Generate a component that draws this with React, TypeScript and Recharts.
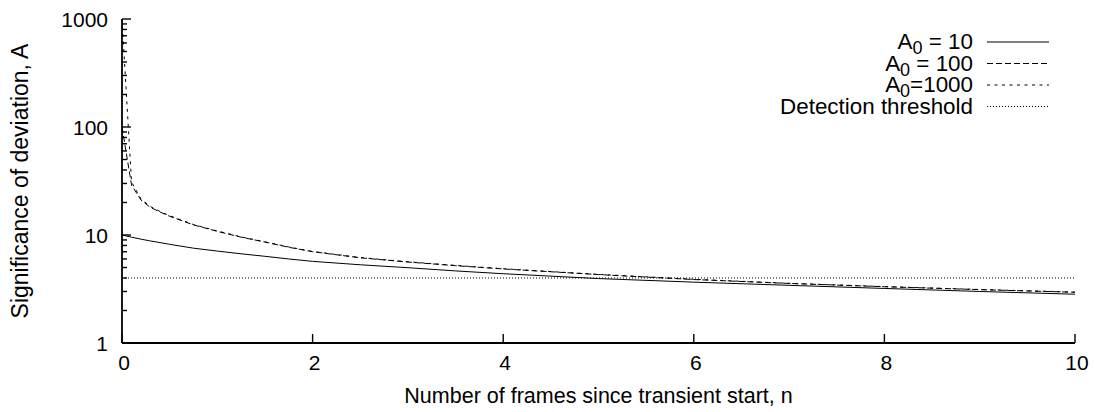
import React from 'react';
import { LineChart, Line, XAxis, YAxis, Legend } from 'recharts';

// Frames since the transient started
const frames = [0, 0.1, 0.2, 0.3, 0.4, 0.5, 0.75, 1, 1.25, 1.5, 1.75, 2, 2.5, 3, 3.5, 4, 5, 6, 7, 8, 9, 10];
// Significance of the deviation for three initial amplitudes
const sigA10 = [10, 9.55, 9.15, 8.8, 8.5, 8.2, 7.55, 7.1, 6.7, 6.35, 6.0, 5.7, 5.3, 4.98, 4.65, 4.38, 3.95, 3.66, 3.42, 3.2, 3.0, 2.83];
const sigA100 = [100, 29, 21, 18, 16.3, 14.9, 12.4, 10.8, 9.55, 8.6, 7.7, 7.0, 6.15, 5.62, 5.2, 4.85, 4.3, 3.87, 3.56, 3.32, 3.12, 2.95];
const sigA1000 = [1000, 31, 21.5, 18.3, 16.5, 15.1, 12.5, 10.9, 9.6, 8.65, 7.75, 7.04, 6.18, 5.65, 5.23, 4.87, 4.32, 3.89, 3.57, 3.33, 3.13, 2.96];
const detectionThreshold = 4;

const seriesNames = ['A_0 = 10', 'A_0 = 100', 'A_0=1000', 'Detection threshold'];

const xTicks = [0, 2, 4, 6, 8, 10];
const yMajor = [1, 10, 100, 1000];
const yMinor = [2, 3, 4, 5, 6, 7, 8, 9, 20, 30, 40, 50, 60, 70, 80, 90, 200, 300, 400, 500, 600, 700, 800, 900];
const yTicks = [...yMajor, ...yMinor].sort((a, b) => a - b);

const data = frames.map((n, i) => ({
  n,
  a10: sigA10[i],
  a100: sigA100[i],
  a1000: sigA1000[i],
  thr: detectionThreshold,
}));

const FONT = '"Liberation Sans", Arial, Helvetica, sans-serif';
const INK = '#000';
const MAJOR = 9;
const MINOR = 5;
const FRAME_W = 1.8;
const TICK_W = 1.4;

const LeftTick = (props: any) => {
  const { x, y, payload } = props;
  const major = yMajor.includes(payload.value);
  return (
    <g>
      <line x1={x} x2={x + (major ? MAJOR : MINOR)} y1={y} y2={y} stroke={INK} strokeWidth={TICK_W} />
      {major && (
        <text x={x - 14} y={y} textAnchor="end" dominantBaseline="central" fontSize={21} fontFamily={FONT} fill={INK}>
          {payload.value}
        </text>
      )}
    </g>
  );
};

const RightTick = (props: any) => {
  const { x, y, payload } = props;
  const major = yMajor.includes(payload.value);
  return <line x1={x} x2={x - (major ? MAJOR : MINOR)} y1={y} y2={y} stroke={INK} strokeWidth={TICK_W} />;
};

const BottomTick = (props: any) => {
  const { x, y, payload } = props;
  return (
    <g>
      <line x1={x} x2={x} y1={y} y2={y - MAJOR} stroke={INK} strokeWidth={TICK_W} />
      <text x={x + 2} y={y + 27} textAnchor="middle" fontSize={21} fontFamily={FONT} fill={INK}>
        {payload.value}
      </text>
    </g>
  );
};

const TopTick = (props: any) => {
  const { x, y } = props;
  return <line x1={x} x2={x} y1={y} y2={y + MAJOR} stroke={INK} strokeWidth={TICK_W} />;
};

// Label text with "_x" rendered as a subscript
const renderName = (name: string) => {
  const idx = name.indexOf('_');
  if (idx < 0) return name;
  return (
    <>
      {name.slice(0, idx)}
      <tspan dy={5} fontSize={18}>{name.slice(idx + 1, idx + 2)}</tspan>
      <tspan dy={-5}>{name.slice(idx + 2)}</tspan>
    </>
  );
};

const LegendBox = (props: any) => {
  const payload = props.payload || [];
  const textRight = 973;
  const sampleX1 = 987;
  const sampleX2 = 1049;
  const top = 42;
  const step = 21.5;
  return (
    <svg width={1094} height={412} style={{ position: 'absolute', left: 0, top: 0, overflow: 'visible' }}>
      {payload.map((entry: any, i: number) => {
        const y = top + i * step;
        const dash = entry.payload?.strokeDasharray;
        return (
          <g key={i}>
            <text x={textRight} y={y + 7} textAnchor="end" fontSize={22.4} fontFamily={FONT} fill={INK}>
              {renderName(String(entry.value))}
            </text>
            <line x1={sampleX1} x2={sampleX2} y1={y} y2={y} stroke={INK} strokeWidth={1} strokeDasharray={dash} />
          </g>
        );
      })}
    </svg>
  );
};

export default function App() {
  return (
    <div style={{ position: 'absolute', left: 0, top: 0, width: 1094, height: 412, background: '#fff' }}>
      <LineChart
        width={1094}
        height={412}
        data={data}
        margin={{ top: 19, right: 19, left: 0, bottom: 0 }}
        style={{ fontFamily: FONT }}
      >
        <XAxis
          dataKey="n"
          type="number"
          domain={[0, 10]}
          ticks={xTicks}
          interval={0}
          height={69}
          tickSize={0}
          tickMargin={0}
          tickLine={false}
          tick={BottomTick}
          axisLine={{ stroke: INK, strokeWidth: FRAME_W }}
          label={{
            value: 'Number of frames since transient start, n',
            position: 'insideBottom',
            offset: 9,
            fontSize: 21.5,
            fill: INK,
            fontFamily: FONT,
          }}
        />
        <XAxis
          xAxisId="top"
          orientation="top"
          type="number"
          domain={[0, 10]}
          ticks={xTicks}
          interval={0}
          height={0}
          tickSize={0}
          tickMargin={0}
          tickLine={false}
          tick={TopTick}
          axisLine={{ stroke: INK, strokeWidth: FRAME_W }}
        />
        <YAxis
          type="number"
          scale="log"
          domain={[1, 1000]}
          allowDataOverflow
          ticks={yTicks}
          interval={0}
          width={122}
          tickSize={0}
          tickMargin={0}
          tickLine={false}
          tick={LeftTick}
          axisLine={{ stroke: INK, strokeWidth: FRAME_W }}
          label={{
            value: 'Significance of deviation, A',
            angle: -90,
            position: 'insideLeft',
            offset: 0,
            dx: 20,
            textAnchor: 'middle',
            fontSize: 23,
            fill: INK,
            fontFamily: FONT,
          }}
        />
        <YAxis
          yAxisId="right"
          orientation="right"
          type="number"
          scale="log"
          domain={[1, 1000]}
          allowDataOverflow
          ticks={yTicks}
          interval={0}
          width={0}
          tickSize={0}
          tickMargin={0}
          tickLine={false}
          tick={RightTick}
          axisLine={{ stroke: INK, strokeWidth: FRAME_W }}
        />
        <Legend
          layout="horizontal"
          verticalAlign="middle"
          align="center"
          wrapperStyle={{ left: 0, top: 0, width: 1094, height: 412, pointerEvents: 'none' }}
          content={LegendBox}
        />
        <Line name={seriesNames[0]} dataKey="a10" type="linear" stroke={INK} strokeWidth={1} dot={false} isAnimationActive={false} />
        <Line name={seriesNames[1]} dataKey="a100" type="linear" stroke={INK} strokeWidth={1} strokeDasharray="6 3" dot={false} isAnimationActive={false} />
        <Line name={seriesNames[2]} dataKey="a1000" type="linear" stroke={INK} strokeWidth={1} strokeDasharray="3 4.5" dot={false} isAnimationActive={false} />
        <Line name={seriesNames[3]} dataKey="thr" type="linear" stroke={INK} strokeWidth={1} strokeDasharray="1 2" dot={false} isAnimationActive={false} />
      </LineChart>
    </div>
  );
}
